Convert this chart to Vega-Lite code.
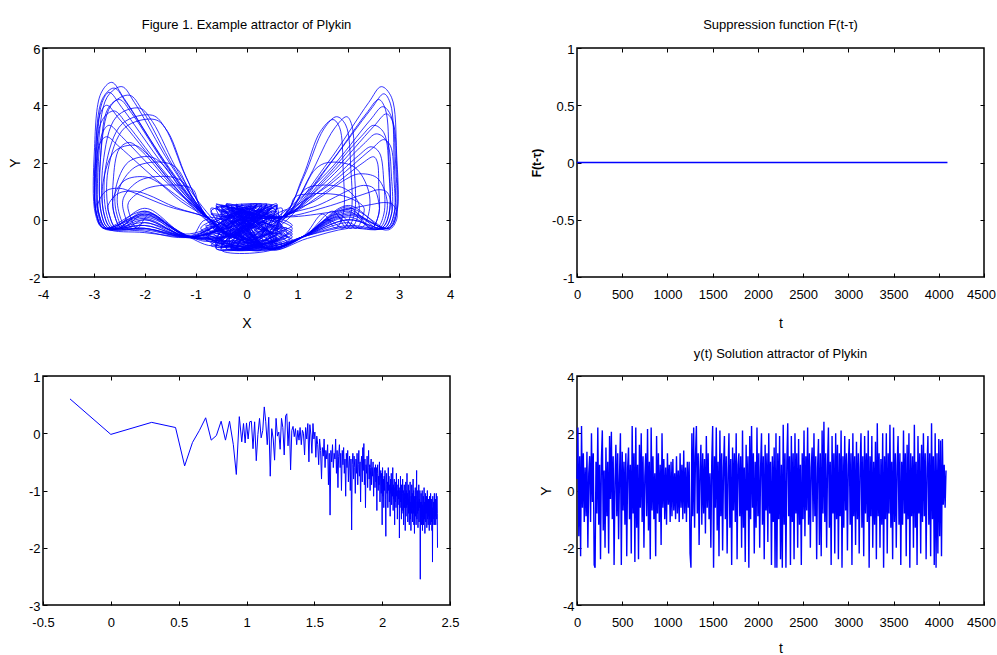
{
"$schema":"https://vega.github.io/schema/vega-lite/v6.json",
"background":"white",
"padding":{"left":7,"top":18,"right":0,"bottom":0},
"config":{
"font":"Liberation Sans",
"view":{"stroke":"black","strokeWidth":1.5},
"axis":{"domain":false,"grid":false,"ticks":true,"tickColor":"black","tickSize":-4,"tickWidth":1,"labelColor":"black","labelFont":"Liberation Sans","labelFontSize":13,"titleColor":"black","titleFont":"Liberation Sans","titleFontSize":14,"titleFontWeight":"normal","labelFlush":false,"labelOverlap":false},
"axisX":{"labelPadding":15,"titlePadding":15},
"axisY":{"labelPadding":7,"labelOffset":1,"titlePadding":6},
"title":{"font":"Liberation Sans","fontSize":13,"fontWeight":"normal","color":"black","offset":11}
},
"datasets":{
"attr":[{"x":0.2,"y":-0.5},
{"x":-1.1,"y":-0.6},{"x":-2.0,"y":-0.3},{"x":-2.82,"y":-0.3},{"x":-2.97,"y":0.2},{"x":-2.99,"y":2.4},{"x":-2.86,"y":4.42},{"x":-2.65,"y":4.8},{"x":-2.4,"y":4.22},{"x":-1.6,"y":2.02},{"x":-0.75,"y":0.05},{"x":-0.3,"y":-0.55},
{"x":0.3,"y":-0.9},{"x":-0.5,"y":0.45},{"x":0.7,"y":-0.3},{"x":-0.2,"y":-1.05},{"x":0.5,"y":0.4},
{"x":0.7,"y":0.1},{"x":1.58,"y":1.95},{"x":2.4,"y":4.09},{"x":2.65,"y":4.65},{"x":2.85,"y":4.28},{"x":2.95,"y":2.33},{"x":2.95,"y":0.2},{"x":2.8,"y":-0.3},{"x":2.0,"y":0.2},{"x":1.1,"y":-0.6},{"x":0.4,"y":-1.0},
{"x":-0.2,"y":0.5},{"x":0.6,"y":-1.0},{"x":-0.7,"y":-0.2},{"x":0.2,"y":0.3},{"x":-0.6,"y":-0.9},
{"x":-1.2,"y":-0.55},{"x":-2.0,"y":0.1},{"x":-2.8,"y":-0.3},{"x":-2.95,"y":0.2},{"x":-2.97,"y":2.3},{"x":-2.83,"y":4.23},{"x":-2.6,"y":4.6},{"x":-2.35,"y":4.05},{"x":-1.58,"y":1.93},{"x":-0.85,"y":0.15},{"x":-0.4,"y":-0.6},
{"x":0.4,"y":0.55},{"x":-0.8,"y":-0.5},{"x":0.1,"y":-1.0},{"x":0.8,"y":0.2},{"x":-0.1,"y":-1.05},
{"x":0.8,"y":0.0},{"x":1.6,"y":1.85},{"x":2.45,"y":3.87},{"x":2.7,"y":4.4},{"x":2.83,"y":4.05},{"x":2.9,"y":2.2},{"x":2.9,"y":0.2},{"x":2.75,"y":-0.3},{"x":2.0,"y":-0.2},{"x":1.2,"y":-0.55},{"x":0.5,"y":-1.05},
{"x":-0.5,"y":0.3},{"x":0.9,"y":-0.6},{"x":-0.3,"y":-0.95},{"x":0.4,"y":0.5},{"x":0.2,"y":-0.8},
{"x":-1.05,"y":-0.65},{"x":-2.0,"y":-0.45},{"x":-2.75,"y":-0.3},{"x":-2.9,"y":0.2},{"x":-2.92,"y":2.33},{"x":-2.74,"y":4.28},{"x":-2.45,"y":4.65},{"x":-2.2,"y":4.09},{"x":-1.5,"y":1.95},{"x":-0.7,"y":0.0},{"x":-0.2,"y":-0.5},
{"x":0.6,"y":-1.0},{"x":-0.4,"y":0.5},{"x":0.9,"y":-0.2},{"x":-0.6,"y":-0.7},{"x":0.0,"y":0.45},
{"x":-1.15,"y":-0.6},{"x":-2.0,"y":0.2},{"x":-2.77,"y":-0.3},{"x":-2.92,"y":0.2},{"x":-2.94,"y":2.23},{"x":-2.84,"y":4.09},{"x":-2.7,"y":4.45},{"x":-2.45,"y":3.92},{"x":-1.62,"y":1.87},{"x":-0.8,"y":0.1},{"x":-0.35,"y":-0.65},
{"x":0.5,"y":0.5},{"x":-0.9,"y":-0.3},{"x":0.3,"y":-1.05},{"x":-0.2,"y":0.2},{"x":-0.3,"y":-1.0},
{"x":0.65,"y":0.15},{"x":1.59,"y":1.66},{"x":2.43,"y":3.48},{"x":2.68,"y":3.95},{"x":2.84,"y":3.63},{"x":2.93,"y":1.98},{"x":2.93,"y":0.2},{"x":2.78,"y":-0.3},{"x":2.0,"y":0.4},{"x":1.05,"y":-0.65},{"x":0.3,"y":-0.95},
{"x":-0.4,"y":0.55},{"x":0.7,"y":-0.85},{"x":-0.8,"y":0.1},{"x":0.4,"y":-0.4},{"x":0.1,"y":-0.7},
{"x":-1.1,"y":-0.6},{"x":-2.0,"y":-0.1},{"x":-2.7,"y":-0.3},{"x":-2.85,"y":0.2},{"x":-2.87,"y":2.18},{"x":-2.66,"y":4.0},{"x":-2.3,"y":4.35},{"x":-2.05,"y":3.83},{"x":-1.43,"y":1.83},{"x":-0.75,"y":0.05},{"x":-0.3,"y":-0.55},
{"x":0.3,"y":0.3},{"x":-0.5,"y":-1.0},{"x":0.8,"y":-0.5},{"x":-0.1,"y":0.5},{"x":-0.6,"y":-0.95},
{"x":0.7,"y":0.1},{"x":1.13,"y":1.51},{"x":1.52,"y":3.17},{"x":1.77,"y":3.6},{"x":1.95,"y":3.31},{"x":2.05,"y":1.8},{"x":2.05,"y":0.2},{"x":1.9,"y":-0.3},{"x":1.6,"y":0.0},{"x":1.1,"y":-0.6},{"x":0.4,"y":-1.0},
{"x":-0.2,"y":0.4},{"x":0.6,"y":-0.5},{"x":-0.5,"y":-0.85},{"x":0.3,"y":0.55},
{"x":-1.2,"y":-0.5},{"x":-2.0,"y":0.3},{"x":-2.8,"y":-0.3},{"x":-2.95,"y":0.2},{"x":-2.97,"y":2.0},{"x":-2.88,"y":3.68},{"x":-2.75,"y":4.0},{"x":-2.5,"y":3.52},{"x":-1.65,"y":1.68},{"x":-0.8,"y":0.0},{"x":-0.3,"y":-0.5},
{"x":0.2,"y":-1.0},{"x":-0.7,"y":0.3},{"x":0.6,"y":0.45},{"x":-0.2,"y":-0.75},
{"x":0.75,"y":0.05},{"x":1.24,"y":1.51},{"x":1.72,"y":3.17},{"x":1.97,"y":3.6},{"x":2.07,"y":3.31},{"x":2.12,"y":1.8},{"x":2.12,"y":0.2},{"x":1.97,"y":-0.3},{"x":1.7,"y":0.3},{"x":1.15,"y":-0.55},{"x":0.4,"y":-1.0},
{"x":-0.1,"y":0.55},{"x":0.5,"y":-0.9},{"x":-0.9,"y":-0.4},{"x":0.2,"y":0.1},
{"x":-1.05,"y":-0.6},{"x":-2.0,"y":-0.35},{"x":-2.65,"y":-0.3},{"x":-2.8,"y":0.2},{"x":-2.82,"y":1.95},{"x":-2.56,"y":3.59},{"x":-2.1,"y":3.9},{"x":-1.85,"y":3.43},{"x":-1.33,"y":1.64},{"x":-0.7,"y":0.1},{"x":-0.3,"y":-0.55},
{"x":0.5,"y":0.1},{"x":-0.2,"y":-0.95},{"x":0.85,"y":-0.7},{"x":-0.5,"y":0.5},
{"x":0.7,"y":0.1},{"x":1.5,"y":1.39},{"x":2.25,"y":2.9},{"x":2.5,"y":3.3},{"x":2.7,"y":3.04},{"x":2.8,"y":1.65},{"x":2.8,"y":0.2},{"x":2.65,"y":-0.3},{"x":2.0,"y":-0.3},{"x":1.2,"y":-0.65},{"x":0.45,"y":-1.05},
{"x":-0.3,"y":0.2},{"x":0.3,"y":-1.05},{"x":-0.75,"y":-0.6},{"x":0.6,"y":0.5},
{"x":-1.1,"y":-0.6},{"x":-2.0,"y":0.0},{"x":-2.6,"y":-0.3},{"x":-2.75,"y":0.2},{"x":-2.77,"y":1.83},{"x":-2.44,"y":3.36},{"x":-1.85,"y":3.65},{"x":-1.6,"y":3.21},{"x":-1.2,"y":1.53},{"x":-0.75,"y":0.05},{"x":-0.3,"y":-0.55},
{"x":0.4,"y":0.45},{"x":-0.5,"y":-0.8},{"x":0.7,"y":-0.95},{"x":-0.3,"y":0.4},
{"x":0.7,"y":0.1},{"x":1.52,"y":1.26},{"x":2.3,"y":2.64},{"x":2.55,"y":3.0},{"x":2.75,"y":2.76},{"x":2.85,"y":1.5},{"x":2.85,"y":0.2},{"x":2.7,"y":-0.3},{"x":2.0,"y":0.5},{"x":1.1,"y":-0.6},{"x":0.4,"y":-1.0},
{"x":-0.1,"y":0.3},{"x":0.7,"y":-0.6},{"x":-0.6,"y":-1.0},{"x":0.2,"y":0.55},
{"x":-1.1,"y":-0.55},{"x":-2.0,"y":-0.2},{"x":-2.75,"y":-0.3},{"x":-2.9,"y":0.2},{"x":-2.92,"y":1.65},{"x":-2.83,"y":3.04},{"x":-2.7,"y":3.3},{"x":-2.45,"y":2.9},{"x":-1.62,"y":1.39},{"x":-0.75,"y":0.05},{"x":-0.3,"y":-0.55},
{"x":0.2,"y":0.55},{"x":-0.4,"y":-1.0},{"x":0.9,"y":-0.4},{"x":-0.7,"y":0.2},
{"x":0.7,"y":0.1},{"x":1.48,"y":1.07},{"x":2.2,"y":2.24},{"x":2.45,"y":2.55},{"x":2.61,"y":2.35},{"x":2.7,"y":1.28},{"x":2.7,"y":0.2},{"x":2.55,"y":-0.3},{"x":2.0,"y":0.1},{"x":1.1,"y":-0.6},{"x":0.4,"y":-1.0},
{"x":-0.6,"y":0.4},{"x":0.0,"y":-0.9},{"x":0.8,"y":0.35},{"x":-0.4,"y":-0.6},
{"x":-1.15,"y":-0.6},{"x":-2.0,"y":0.25},{"x":-2.55,"y":-0.3},{"x":-2.7,"y":0.2},{"x":-2.72,"y":1.75},{"x":-2.39,"y":3.22},{"x":-1.8,"y":3.5},{"x":-1.55,"y":3.08},{"x":-1.18,"y":1.47},{"x":-0.75,"y":0.05},{"x":-0.3,"y":-0.55},
{"x":0.6,"y":0.2},{"x":-0.1,"y":-1.0},{"x":-0.8,"y":-0.2},{"x":0.5,"y":-0.8},
{"x":0.7,"y":0.1},{"x":1.6,"y":1.18},{"x":2.45,"y":2.46},{"x":2.7,"y":2.8},{"x":2.83,"y":2.58},{"x":2.9,"y":1.4},{"x":2.9,"y":0.2},{"x":2.75,"y":-0.3},{"x":2.0,"y":0.25},{"x":1.1,"y":-0.6},{"x":0.4,"y":-1.0},
{"x":-0.3,"y":0.5},{"x":0.4,"y":-0.7},{"x":-0.7,"y":-0.9},{"x":0.6,"y":0.3},
{"x":-1.1,"y":-0.6},{"x":-2.0,"y":-0.3},{"x":-2.45,"y":-0.3},{"x":-2.6,"y":0.2},{"x":-2.62,"y":1.35},{"x":-2.5,"y":2.48},{"x":-2.3,"y":2.7},{"x":-2.05,"y":2.38},{"x":-1.43,"y":1.13},{"x":-0.75,"y":0.05},{"x":-0.3,"y":-0.55},
{"x":0.5,"y":-1.0},{"x":0.1,"y":0.4},{"x":-0.6,"y":-0.3},{"x":0.3,"y":-0.6},
{"x":0.7,"y":0.1},{"x":1.4,"y":0.5},{"x":2.05,"y":1.06},{"x":2.3,"y":1.2},{"x":2.5,"y":1.1},{"x":2.6,"y":0.6},{"x":2.6,"y":0.2},{"x":2.45,"y":-0.3},{"x":2.0,"y":0.3},{"x":1.1,"y":-0.6},{"x":0.4,"y":-1.0},
{"x":-0.5,"y":0.1},{"x":0.3,"y":0.45},{"x":-0.3,"y":-1.05},{"x":0.8,"y":-0.3},
{"x":-1.1,"y":-0.6},{"x":-2.0,"y":0.4},{"x":-2.65,"y":-0.3},{"x":-2.8,"y":0.2},{"x":-2.82,"y":1.3},{"x":-2.59,"y":2.39},{"x":-2.2,"y":2.6},{"x":-1.95,"y":2.29},{"x":-1.38,"y":1.09},{"x":-0.75,"y":0.05},{"x":-0.3,"y":-0.55},
{"x":0.6,"y":-0.8},{"x":-0.2,"y":0.5},{"x":0.4,"y":-1.0},{"x":-0.8,"y":0.0},
{"x":-1.1,"y":-0.6},{"x":-2.0,"y":0.0},{"x":-2.4,"y":-0.3},{"x":-2.55,"y":0.2},{"x":-2.57,"y":1.1},{"x":-2.32,"y":2.02},{"x":-1.9,"y":2.2},{"x":-1.65,"y":1.94},{"x":-1.23,"y":0.92},{"x":-0.75,"y":0.05},{"x":-0.3,"y":-0.55},
{"x":0.4,"y":0.5},{"x":-0.3,"y":-0.9},{"x":0.9,"y":-0.5},{"x":-0.5,"y":0.35},
{"x":0.7,"y":0.1},{"x":1.55,"y":0.44},{"x":2.35,"y":0.92},{"x":2.6,"y":1.05},{"x":2.76,"y":0.97},{"x":2.85,"y":0.53},{"x":2.85,"y":0.2},{"x":2.7,"y":-0.3},{"x":2.0,"y":0.0},{"x":1.1,"y":-0.6},{"x":0.4,"y":-1.0},
{"x":-0.6,"y":0.5},{"x":0.2,"y":-1.0},{"x":0.7,"y":0.4},{"x":-0.7,"y":-0.75},
{"x":-1.1,"y":-0.6},{"x":-2.0,"y":0.15},{"x":-2.8,"y":-0.3},{"x":-2.95,"y":0.2},{"x":-2.97,"y":1.45},{"x":-2.88,"y":2.67},{"x":-2.75,"y":2.9},{"x":-2.5,"y":2.55},{"x":-1.65,"y":1.22},{"x":-0.75,"y":0.05},{"x":-0.3,"y":-0.55},
{"x":0.3,"y":0.5},{"x":-0.5,"y":-1.05},{"x":0.6,"y":-0.95},{"x":-0.1,"y":0.2},
{"x":0.7,"y":0.1},{"x":1.1,"y":1.47},{"x":1.45,"y":3.08},{"x":1.7,"y":3.5},{"x":1.83,"y":3.22},{"x":1.9,"y":1.75},{"x":1.9,"y":0.2},{"x":1.75,"y":-0.3},{"x":1.5,"y":0.2},{"x":1.1,"y":-0.6},{"x":0.4,"y":-1.0},
{"x":-0.2,"y":0.45},{"x":0.5,"y":-0.6},{"x":-0.8,"y":-0.7},{"x":0.1,"y":0.55},
{"x":-1.1,"y":-0.6},{"x":-2.0,"y":-0.4},{"x":-2.35,"y":-0.3},{"x":-2.5,"y":0.2},{"x":-2.52,"y":1.0},{"x":-2.19,"y":1.84},{"x":-1.6,"y":2.0},{"x":-1.35,"y":1.76},{"x":-1.08,"y":0.84},{"x":-0.75,"y":0.05},{"x":-0.3,"y":-0.55},
{"x":0.5,"y":0.4},{"x":-0.4,"y":-1.0},{"x":0.8,"y":-0.8},{"x":-0.6,"y":0.45},
{"x":0.7,"y":0.1},{"x":1.05,"y":0.84},{"x":1.35,"y":1.76},{"x":1.6,"y":2.0},{"x":2.12,"y":1.84},{"x":2.4,"y":1.0},{"x":2.4,"y":0.2},{"x":2.25,"y":-0.3},{"x":2.0,"y":-0.1},{"x":1.1,"y":-0.6},{"x":0.4,"y":-1.0},
{"x":-0.4,"y":0.3},{"x":0.1,"y":-0.8},{"x":0.6,"y":0.55},{"x":-0.5,"y":-0.5},
{"x":-1.1,"y":-0.6},{"x":-2.0,"y":0.2},{"x":-2.45,"y":-0.3},{"x":-2.6,"y":0.2},{"x":-2.62,"y":0.75},{"x":-2.39,"y":1.38},{"x":-2.0,"y":1.5},{"x":-1.75,"y":1.32},{"x":-1.28,"y":0.63},{"x":-0.75,"y":0.05},{"x":-0.3,"y":-0.55},
{"x":0.6,"y":0.5},{"x":0.0,"y":-1.0},{"x":-0.7,"y":0.4},{"x":0.5,"y":-0.4},
{"x":0.7,"y":0.1},{"x":1.35,"y":0.67},{"x":1.95,"y":1.41},{"x":2.2,"y":1.6},{"x":2.56,"y":1.47},{"x":2.75,"y":0.8},{"x":2.75,"y":0.2},{"x":2.6,"y":-0.3},{"x":2.0,"y":0.35},{"x":1.1,"y":-0.6},{"x":0.4,"y":-1.0},
{"x":-0.5,"y":0.45},{"x":0.3,"y":-0.95},{"x":-0.9,"y":-0.5},{"x":0.4,"y":0.2},
{"x":-1.1,"y":-0.6},{"x":-2.0,"y":-0.2},{"x":-2.75,"y":-0.3},{"x":-2.9,"y":0.2},{"x":-2.92,"y":0.55},{"x":-2.76,"y":1.01},{"x":-2.5,"y":1.1},{"x":-2.25,"y":0.97},{"x":-1.53,"y":0.46},{"x":-0.75,"y":0.05},{"x":-0.3,"y":-0.55},
{"x":0.2,"y":0.5},{"x":-0.6,"y":-0.85},{"x":0.8,"y":-0.6},{"x":-0.2,"y":0.4},
{"x":0.7,"y":0.1},{"x":1.63,"y":1.55},{"x":2.5,"y":3.26},{"x":2.75,"y":3.7},{"x":2.88,"y":3.4},{"x":2.95,"y":1.85},{"x":2.95,"y":0.2},{"x":2.8,"y":-0.3},{"x":2.0,"y":0.15},{"x":1.1,"y":-0.6},{"x":0.4,"y":-1.0},
{"x":-0.2,"y":0.55},{"x":0.6,"y":-0.9},{"x":-0.4,"y":-0.3},{"x":0.3,"y":0.4},
{"x":-1.1,"y":-0.6},{"x":-2.0,"y":0.3},{"x":-2.55,"y":-0.3},{"x":-2.7,"y":0.2},{"x":-2.72,"y":0.5},{"x":-2.52,"y":0.92},{"x":-2.2,"y":1.0},{"x":-1.95,"y":0.88},{"x":-1.38,"y":0.42},{"x":-0.75,"y":0.05},{"x":-0.3,"y":-0.55},
{"x":0.5,"y":0.3},{"x":-0.1,"y":-1.05},{"x":0.9,"y":-0.3},{"x":-0.6,"y":0.55},
{"x":0.7,"y":0.1},{"x":0.95,"y":0.5},{"x":1.15,"y":1.06},{"x":1.4,"y":1.2},{"x":1.92,"y":1.1},{"x":2.2,"y":0.6},{"x":2.2,"y":0.2},{"x":2.05,"y":-0.3},{"x":1.8,"y":0.1},{"x":1.1,"y":-0.6},{"x":0.4,"y":-1.0},
{"x":-0.4,"y":0.5},{"x":0.2,"y":-0.7},{"x":-0.8,"y":-0.6},{"x":0.5,"y":0.5},
{"x":-1.1,"y":-0.6},{"x":-2.0,"y":-0.1},{"x":-2.25,"y":-0.3},{"x":-2.4,"y":0.2},{"x":-2.42,"y":0.75},{"x":-2.09,"y":1.38},{"x":-1.5,"y":1.5},{"x":-1.25,"y":1.32},{"x":-1.03,"y":0.63},{"x":-0.75,"y":0.05},{"x":-0.3,"y":-0.55},
{"x":0.4,"y":0.55},{"x":-0.5,"y":-0.95},{"x":0.7,"y":-0.2},{"x":-0.3,"y":0.3},
{"x":0.7,"y":0.1},{"x":1.55,"y":1.76},{"x":2.35,"y":3.7},{"x":2.6,"y":4.2},{"x":2.73,"y":3.86},{"x":2.8,"y":2.1},{"x":2.8,"y":0.2},{"x":2.65,"y":-0.3},{"x":2.0,"y":-0.25},{"x":1.1,"y":-0.6},{"x":0.4,"y":-1.0},
{"x":-0.3,"y":0.4},{"x":0.5,"y":-1.0},{"x":-0.7,"y":-0.8},{"x":0.8,"y":0.1},
{"x":-1.1,"y":-0.6},{"x":-2.0,"y":-0.3},{"x":-2.8,"y":-0.3},{"x":-2.95,"y":0.2},{"x":-2.97,"y":1.9},{"x":-2.83,"y":3.5},{"x":-2.6,"y":3.8},{"x":-2.35,"y":3.34},{"x":-1.58,"y":1.6},{"x":-0.75,"y":0.05},{"x":-0.3,"y":-0.55},
{"x":0.1,"y":0.5},{"x":-0.6,"y":-1.0},{"x":0.6,"y":-0.7},{"x":-0.4,"y":0.55},
{"x":0.7,"y":0.1},{"x":0.85,"y":0.38},{"x":0.95,"y":0.79},{"x":1.2,"y":0.9},{"x":1.91,"y":0.83},{"x":2.3,"y":0.45},{"x":2.3,"y":0.2},{"x":2.15,"y":-0.3},{"x":1.8,"y":0.2},{"x":1.1,"y":-0.6},{"x":0.4,"y":-1.0},
{"x":-0.2,"y":0.3},{"x":0.6,"y":-0.7},{"x":-0.8,"y":-0.3},{"x":0.2,"y":0.5},
{"x":-1.1,"y":-0.6},{"x":-2.0,"y":0.05},{"x":-2.7,"y":-0.3},{"x":-2.85,"y":0.2},{"x":-2.87,"y":2.1},{"x":-2.73,"y":3.86},{"x":-2.5,"y":4.2},{"x":-2.25,"y":3.7},{"x":-1.53,"y":1.76},{"x":-0.75,"y":0.05},{"x":-0.3,"y":-0.55},
{"x":0.5,"y":0.5},{"x":-0.3,"y":-1.0},{"x":0.9,"y":-0.7},{"x":-0.6,"y":0.1},
{"x":0.7,"y":0.1},{"x":1.5,"y":0.92},{"x":2.25,"y":1.94},{"x":2.5,"y":2.2},{"x":2.57,"y":2.02},{"x":2.6,"y":1.1},{"x":2.6,"y":0.2},{"x":2.45,"y":-0.3},{"x":2.0,"y":0.45},{"x":1.1,"y":-0.6},{"x":0.4,"y":-1.0},
{"x":-0.5,"y":0.2},{"x":0.3,"y":0.5},{"x":-0.2,"y":-1.05},{"x":0.7,"y":-0.5},
{"x":-1.1,"y":-0.6},{"x":-1.9,"y":0.2},{"x":-2.15,"y":-0.3},{"x":-2.3,"y":0.2},{"x":-2.32,"y":0.6},{"x":-1.95,"y":1.1},{"x":-1.3,"y":1.2},{"x":-1.05,"y":1.06},{"x":-0.93,"y":0.5},{"x":-0.75,"y":0.05},{"x":-0.3,"y":-0.55},
{"x":0.4,"y":-1.0},{"x":0.6,"y":0.4},{"x":-0.5,"y":-0.7},{"x":0.1,"y":0.3},
{"x":0.7,"y":0.1},{"x":1.6,"y":0.25},{"x":2.45,"y":0.53},{"x":2.7,"y":0.6},{"x":2.86,"y":0.55},{"x":2.95,"y":0.3},{"x":2.95,"y":0.0},{"x":2.8,"y":-0.35},{"x":2.0,"y":0.0},{"x":1.1,"y":-0.6},{"x":0.4,"y":-1.0}],
"supp":[{"t":0,"f":0},{"t":4096,"f":0}],
"spec":[{"x":-0.301,"y":0.6},{"x":0,"y":-0.02},{"x":0.301,"y":0.19},{"x":0.477,"y":0.1},{"x":0.544,"y":-0.57},{"x":0.602,"y":-0.16},{"x":0.653,"y":0.05},{"x":0.699,"y":0.27},{"x":0.74,"y":-0.12},{"x":0.778,"y":-0.04},{"x":0.813,"y":0.21},{"x":0.845,"y":-0.12},{"x":0.875,"y":0.21},{"x":0.903,"y":-0.2},{"x":0.925,"y":-0.72},{"x":0.947,"y":0.29},{"x":0.965,"y":-0.15},{"x":0.978,"y":0.17},{"x":0.99,"y":-0.17},{"x":1.0,"y":0.18},{"x":1.012,"y":-0.1},{"x":1.024,"y":0.2},{"x":1.036,"y":0.21},{"x":1.048,"y":-0.27},{"x":1.06,"y":0.2},{"x":1.072,"y":-0.48},{"x":1.084,"y":-0.02},{"x":1.096,"y":0.26},{"x":1.108,"y":-0.08},{"x":1.12,"y":0.05},{"x":1.131,"y":0.46},{"x":1.142,"y":0.2},{"x":1.153,"y":-0.2},{"x":1.164,"y":0.28},{"x":1.175,"y":-0.75},{"x":1.186,"y":0.08},{"x":1.197,"y":-0.1},{"x":1.207,"y":-0.47},{"x":1.218,"y":0.26},{"x":1.228,"y":-0.05},{"x":1.238,"y":0.02},{"x":1.248,"y":-0.28},{"x":1.258,"y":0.26},{"x":1.268,"y":0.1},{"x":1.278,"y":-0.38},{"x":1.288,"y":0.3},{"x":1.297,"y":0.34},{"x":1.306,"y":-0.22},{"x":1.316,"y":0.2},{"x":1.325,"y":-0.64},{"x":1.334,"y":0.05},{"x":1.343,"y":0.12},{"x":1.352,"y":-0.06},{"x":1.361,"y":0.08},{"x":1.37,"y":-0.2},{"x":1.378,"y":0.05},{"x":1.387,"y":-0.12},{"x":1.395,"y":0.1},{"x":1.404,"y":-0.2},{"x":1.412,"y":0.05},{"x":1.42,"y":0.0},{"x":1.428,"y":-0.38},{"x":1.436,"y":0.1},{"x":1.444,"y":-0.1},{"x":1.452,"y":0.17},{"x":1.46,"y":-0.5},{"x":1.467,"y":0.15},{"x":1.475,"y":-0.03},{"x":1.482,"y":-0.35},{"x":1.49,"y":0.17},{"x":1.497,"y":-0.1},{"x":1.504,"y":0.02},{"x":1.511,"y":-0.42},{"x":1.518,"y":-0.05},{"x":1.525,"y":-0.2},{"x":1.532,"y":-0.55},{"x":1.539,"y":-0.1},{"x":1.546,"y":-0.3},{"x":1.553,"y":-0.8},{"x":1.559,"y":-0.25},{"x":1.566,"y":-0.4},{"x":1.572,"y":-0.1},{"x":1.579,"y":-0.6},{"x":1.585,"y":-0.3},{"x":1.592,"y":-0.45},{"x":1.598,"y":-0.2},{"x":1.604,"y":-0.9},{"x":1.61,"y":-0.35},{"x":1.616,"y":-1.43},{"x":1.622,"y":-0.3},{"x":1.628,"y":-0.5},{"x":1.634,"y":-0.2},{"x":1.64,"y":-0.6},{"x":1.646,"y":-0.35},{"x":1.652,"y":-0.45},{"x":1.657,"y":-0.1},{"x":1.663,"y":-0.7},{"x":1.668,"y":-0.3},{"x":1.674,"y":-0.95},{"x":1.679,"y":-0.4},{"x":1.685,"y":-0.2},{"x":1.69,"y":-0.6},{"x":1.695,"y":-0.35},{"x":1.7,"y":-1.0},{"x":1.706,"y":-0.3},{"x":1.711,"y":-0.55},{"x":1.716,"y":-0.25},{"x":1.721,"y":-0.7},{"x":1.726,"y":-0.45},{"x":1.731,"y":-1.1},{"x":1.736,"y":-0.35},{"x":1.741,"y":-0.6},{"x":1.746,"y":-0.3},{"x":1.751,"y":-0.85},{"x":1.756,"y":-0.5},{"x":1.76,"y":-0.4},{"x":1.765,"y":-1.0},{"x":1.77,"y":-0.45},{"x":1.775,"y":-1.69},{"x":1.779,"y":-0.55},{"x":1.784,"y":-0.35},{"x":1.789,"y":-0.8},{"x":1.793,"y":-0.4},{"x":1.798,"y":-0.6},{"x":1.802,"y":-1.05},{"x":1.807,"y":-0.45},{"x":1.811,"y":-0.7},{"x":1.815,"y":-0.35},{"x":1.82,"y":-0.9},{"x":1.824,"y":-0.55},{"x":1.828,"y":-0.3},{"x":1.832,"y":-0.75},{"x":1.837,"y":-0.5},{"x":1.841,"y":-1.2},{"x":1.845,"y":-0.5},{"x":1.849,"y":-0.4},{"x":1.853,"y":-0.85},{"x":1.857,"y":-0.25},{"x":1.861,"y":-0.65},{"x":1.865,"y":-0.18},{"x":1.869,"y":-0.9},{"x":1.873,"y":-0.45},{"x":1.877,"y":-1.3},{"x":1.881,"y":-0.55},{"x":1.885,"y":-0.7},{"x":1.889,"y":-0.4},{"x":1.893,"y":-0.95},{"x":1.896,"y":-0.6},{"x":1.9,"y":-0.3},{"x":1.904,"y":-0.8},{"x":1.908,"y":-0.55},{"x":1.911,"y":-1.0},{"x":1.915,"y":-0.6},{"x":1.919,"y":-0.45},{"x":1.922,"y":-0.9},{"x":1.926,"y":-0.6},{"x":1.93,"y":-0.75},{"x":1.933,"y":-0.5},{"x":1.937,"y":-1.1},{"x":1.94,"y":-0.7},{"x":1.944,"y":-0.6},{"x":1.947,"y":-0.95},{"x":1.951,"y":-0.55},{"x":1.954,"y":-0.85},{"x":1.957,"y":-0.6},{"x":1.961,"y":-1.35},{"x":1.964,"y":-0.7},{"x":1.967,"y":-0.55},{"x":1.971,"y":-1.0},{"x":1.974,"y":-0.75},{"x":1.977,"y":-0.9},{"x":1.98,"y":-0.5},{"x":1.984,"y":-1.2},{"x":1.987,"y":-0.8},{"x":1.99,"y":-0.65},{"x":1.993,"y":-1.05},{"x":1.996,"y":-0.7},{"x":2.0,"y":-1.6},{"x":2.003,"y":-0.6},{"x":2.006,"y":-1.1},{"x":2.009,"y":-0.8},{"x":2.012,"y":-1.3},{"x":2.015,"y":-0.75},{"x":2.018,"y":-1.0},{"x":2.021,"y":-0.65},{"x":2.024,"y":-1.15},{"x":2.027,"y":-1.8},{"x":2.03,"y":-0.9},{"x":2.033,"y":-0.7},{"x":2.036,"y":-1.05},{"x":2.039,"y":-0.85},{"x":2.042,"y":-1.3},{"x":2.045,"y":-0.6},{"x":2.048,"y":-1.0},{"x":2.05,"y":-0.75},{"x":2.053,"y":-1.2},{"x":2.056,"y":-0.9},{"x":2.059,"y":-1.45},{"x":2.062,"y":-0.8},{"x":2.065,"y":-1.05},{"x":2.067,"y":-0.7},{"x":2.07,"y":-1.25},{"x":2.073,"y":-0.95},{"x":2.076,"y":-1.1},{"x":2.078,"y":-0.6},{"x":2.081,"y":-1.35},{"x":2.084,"y":-0.9},{"x":2.086,"y":-1.15},{"x":2.089,"y":-0.8},{"x":2.092,"y":-1.6},{"x":2.094,"y":-0.95},{"x":2.097,"y":-1.2},{"x":2.1,"y":-0.85},{"x":2.102,"y":-1.3},{"x":2.105,"y":-0.7},{"x":2.107,"y":-1.1},{"x":2.11,"y":-0.9},{"x":2.112,"y":-1.5},{"x":2.115,"y":-1.0},{"x":2.117,"y":-1.25},{"x":2.12,"y":-0.8},{"x":2.122,"y":-1.15},{"x":2.125,"y":-0.95},{"x":2.127,"y":-1.83},{"x":2.13,"y":-1.0},{"x":2.132,"y":-1.3},{"x":2.135,"y":-0.75},{"x":2.137,"y":-1.2},{"x":2.14,"y":-1.0},{"x":2.142,"y":-1.5},{"x":2.144,"y":-0.9},{"x":2.147,"y":-1.35},{"x":2.149,"y":-1.05},{"x":2.151,"y":-0.8},{"x":2.154,"y":-1.4},{"x":2.156,"y":-1.0},{"x":2.158,"y":-1.6},{"x":2.161,"y":-1.1},{"x":2.163,"y":-0.9},{"x":2.165,"y":-1.3},{"x":2.167,"y":-1.05},{"x":2.17,"y":-1.7},{"x":2.172,"y":-1.15},{"x":2.174,"y":-0.85},{"x":2.176,"y":-1.45},{"x":2.178,"y":-1.0},{"x":2.181,"y":-1.3},{"x":2.183,"y":-0.7},{"x":2.185,"y":-1.25},{"x":2.187,"y":-1.05},{"x":2.189,"y":-1.55},{"x":2.191,"y":-1.1},{"x":2.193,"y":-0.9},{"x":2.195,"y":-1.4},{"x":2.198,"y":-1.15},{"x":2.2,"y":-1.6},{"x":2.202,"y":-1.0},{"x":2.204,"y":-1.35},{"x":2.206,"y":-0.85},{"x":2.208,"y":-1.5},{"x":2.21,"y":-1.2},{"x":2.212,"y":-1.7},{"x":2.214,"y":-1.1},{"x":2.216,"y":-1.4},{"x":2.218,"y":-0.9},{"x":2.22,"y":-1.3},{"x":2.222,"y":-1.05},{"x":2.224,"y":-1.55},{"x":2.226,"y":-1.2},{"x":2.228,"y":-0.8},{"x":2.23,"y":-1.4},{"x":2.232,"y":-1.0},{"x":2.234,"y":-1.6},{"x":2.236,"y":-1.15},{"x":2.238,"y":-1.75},{"x":2.24,"y":-1.1},{"x":2.242,"y":-1.3},{"x":2.244,"y":-0.95},{"x":2.246,"y":-1.45},{"x":2.248,"y":-1.1},{"x":2.25,"y":-1.6},{"x":2.252,"y":-1.0},{"x":2.254,"y":-0.65},{"x":2.256,"y":-1.5},{"x":2.258,"y":-1.2},{"x":2.26,"y":-1.4},{"x":2.262,"y":-1.0},{"x":2.264,"y":-1.65},{"x":2.266,"y":-1.2},{"x":2.268,"y":-1.35},{"x":2.27,"y":-0.9},{"x":2.272,"y":-1.55},{"x":2.274,"y":-1.15},{"x":2.276,"y":-1.3},{"x":2.278,"y":-1.0},{"x":2.281,"y":-2.55},{"x":2.283,"y":-1.2},{"x":2.285,"y":-1.45},{"x":2.287,"y":-1.05},{"x":2.289,"y":-1.6},{"x":2.291,"y":-1.2},{"x":2.293,"y":-1.4},{"x":2.295,"y":-1.0},{"x":2.297,"y":-1.7},{"x":2.299,"y":-1.25},{"x":2.301,"y":-1.45},{"x":2.303,"y":-1.1},{"x":2.305,"y":-1.6},{"x":2.307,"y":-1.3},{"x":2.309,"y":-0.95},{"x":2.311,"y":-1.5},{"x":2.313,"y":-1.2},{"x":2.315,"y":-1.75},{"x":2.317,"y":-1.3},{"x":2.319,"y":-1.05},{"x":2.321,"y":-1.55},{"x":2.323,"y":-1.25},{"x":2.325,"y":-1.4},{"x":2.327,"y":-1.1},{"x":2.329,"y":-1.65},{"x":2.331,"y":-1.3},{"x":2.333,"y":-1.0},{"x":2.335,"y":-1.5},{"x":2.337,"y":-1.2},{"x":2.339,"y":-1.6},{"x":2.341,"y":-1.15},{"x":2.343,"y":-1.45},{"x":2.345,"y":-1.3},{"x":2.347,"y":-1.7},{"x":2.349,"y":-1.1},{"x":2.351,"y":-1.5},{"x":2.353,"y":-1.25},{"x":2.355,"y":-1.6},{"x":2.357,"y":-1.05},{"x":2.359,"y":-1.4},{"x":2.361,"y":-1.2},{"x":2.363,"y":-1.55},{"x":2.365,"y":-1.15},{"x":2.367,"y":-1.7},{"x":2.369,"y":-1.3},{"x":2.371,"y":-2.25},{"x":2.373,"y":-1.1},{"x":2.375,"y":-1.6},{"x":2.377,"y":-1.35},{"x":2.379,"y":-1.2},{"x":2.381,"y":-1.5},{"x":2.383,"y":-1.3},{"x":2.385,"y":-1.05},{"x":2.387,"y":-1.6},{"x":2.389,"y":-1.3},{"x":2.391,"y":-1.45},{"x":2.393,"y":-1.15},{"x":2.395,"y":-1.6},{"x":2.397,"y":-1.25},{"x":2.399,"y":-1.05},{"x":2.402,"y":-1.5},{"x":2.404,"y":-1.1},{"x":2.406,"y":-1.4},{"x":2.408,"y":-2.0}],
"ts":[{"t":0,"y":0.4},{"t":10,"y":2.2},{"t":20,"y":-1.6},{"t":30,"y":1.2},{"t":40,"y":-2.3},{"t":50,"y":2.25},{"t":60,"y":-0.6},{"t":70,"y":1.3},{"t":80,"y":-1.1},{"t":90,"y":0.8},
{"t":100,"y":-0.9},{"t":110,"y":1.35},{"t":120,"y":-2.0},{"t":130,"y":0.6},{"t":140,"y":1.2},{"t":150,"y":-1.1},{"t":160,"y":2.0},{"t":170,"y":-0.4},{"t":180,"y":1.3},{"t":190,"y":-2.6},
{"t":200,"y":-2.7},{"t":210,"y":1.0},{"t":220,"y":-0.8},{"t":230,"y":2.2},{"t":240,"y":-1.2},{"t":250,"y":0.9},{"t":260,"y":-2.4},{"t":270,"y":1.1},{"t":280,"y":2.1},{"t":290,"y":-1.4},
{"t":300,"y":0.7},{"t":310,"y":-2.0},{"t":320,"y":1.5},{"t":330,"y":-0.9},{"t":340,"y":1.0},{"t":350,"y":-2.2},{"t":360,"y":1.9},{"t":370,"y":-0.3},{"t":380,"y":2.05},{"t":390,"y":-1.0},
{"t":400,"y":1.2},{"t":410,"y":-2.6},{"t":420,"y":0.3},{"t":430,"y":1.6},{"t":440,"y":-0.9},{"t":450,"y":1.3},{"t":460,"y":-1.7},{"t":470,"y":0.5},{"t":480,"y":2.0},{"t":490,"y":-2.6},
{"t":500,"y":1.35},{"t":510,"y":-0.7},{"t":520,"y":1.0},{"t":530,"y":-1.2},{"t":540,"y":1.3},{"t":550,"y":-2.3},{"t":560,"y":0.8},{"t":570,"y":1.5},{"t":580,"y":-1.0},{"t":590,"y":0.9},
{"t":600,"y":-2.2},{"t":610,"y":2.25},{"t":620,"y":-0.8},{"t":630,"y":1.3},{"t":640,"y":-2.5},{"t":650,"y":2.2},{"t":660,"y":-1.3},{"t":670,"y":0.9},{"t":680,"y":-2.4},{"t":690,"y":1.6},
{"t":700,"y":-0.6},{"t":710,"y":2.0},{"t":720,"y":-1.1},{"t":730,"y":1.2},{"t":740,"y":-2.0},{"t":750,"y":0.5},{"t":760,"y":1.3},{"t":770,"y":-0.9},{"t":780,"y":2.15},{"t":790,"y":-1.4},
{"t":800,"y":1.0},{"t":810,"y":-2.4},{"t":820,"y":2.2},{"t":830,"y":-0.7},{"t":840,"y":1.2},{"t":850,"y":-1.0},{"t":860,"y":0.6},{"t":870,"y":-2.3},{"t":880,"y":1.9},{"t":890,"y":-0.8},
{"t":900,"y":1.3},{"t":910,"y":-1.1},{"t":920,"y":0.9},{"t":930,"y":-1.9},{"t":940,"y":2.0},{"t":950,"y":-0.6},{"t":960,"y":1.1},{"t":970,"y":-1.0},{"t":980,"y":0.8},{"t":990,"y":-1.2},
{"t":1000,"y":1.3},{"t":1010,"y":-0.5},{"t":1020,"y":0.9},{"t":1030,"y":-1.1},{"t":1040,"y":1.0},{"t":1050,"y":-0.9},{"t":1060,"y":1.1},{"t":1070,"y":-0.7},{"t":1080,"y":0.6},{"t":1090,"y":-1.0},
{"t":1100,"y":1.2},{"t":1110,"y":-0.8},{"t":1120,"y":0.7},{"t":1130,"y":-1.1},{"t":1140,"y":1.3},{"t":1150,"y":-0.6},{"t":1160,"y":0.9},{"t":1170,"y":-1.0},{"t":1180,"y":1.4},{"t":1190,"y":-0.8},
{"t":1200,"y":0.8},{"t":1210,"y":-1.1},{"t":1220,"y":1.0},{"t":1230,"y":-0.6},{"t":1240,"y":1.0},{"t":1250,"y":-2.2},{"t":1260,"y":-2.7},{"t":1270,"y":2.0},{"t":1280,"y":-0.9},{"t":1290,"y":2.2},
{"t":1300,"y":-1.3},{"t":1310,"y":1.2},{"t":1320,"y":2.25},{"t":1330,"y":-0.8},{"t":1340,"y":1.3},{"t":1350,"y":-1.9},{"t":1360,"y":0.7},{"t":1370,"y":1.6},{"t":1380,"y":-1.2},{"t":1390,"y":1.3},
{"t":1400,"y":-0.8},{"t":1410,"y":1.1},{"t":1420,"y":-1.5},{"t":1430,"y":1.9},{"t":1440,"y":-0.6},{"t":1450,"y":1.3},{"t":1460,"y":-1.0},{"t":1470,"y":0.6},{"t":1480,"y":-2.0},{"t":1490,"y":1.0},
{"t":1500,"y":2.25},{"t":1510,"y":-2.7},{"t":1520,"y":1.2},{"t":1530,"y":-0.6},{"t":1540,"y":2.2},{"t":1550,"y":-1.4},{"t":1560,"y":1.0},{"t":1570,"y":-2.3},{"t":1580,"y":2.1},{"t":1590,"y":-0.9},
{"t":1600,"y":1.3},{"t":1610,"y":-2.1},{"t":1620,"y":0.8},{"t":1630,"y":1.9},{"t":1640,"y":-1.0},{"t":1650,"y":1.2},{"t":1660,"y":-2.2},{"t":1670,"y":0.6},{"t":1680,"y":2.0},{"t":1690,"y":-1.3},
{"t":1700,"y":1.1},{"t":1710,"y":-2.6},{"t":1720,"y":1.5},{"t":1730,"y":-0.7},{"t":1740,"y":1.3},{"t":1750,"y":-1.1},{"t":1760,"y":2.0},{"t":1770,"y":-2.4},{"t":1780,"y":0.9},{"t":1790,"y":1.3},
{"t":1800,"y":-0.9},{"t":1810,"y":1.2},{"t":1820,"y":-2.0},{"t":1830,"y":2.1},{"t":1840,"y":-1.3},{"t":1850,"y":0.8},{"t":1860,"y":-2.5},{"t":1870,"y":1.6},{"t":1880,"y":-0.7},{"t":1890,"y":1.2},
{"t":1900,"y":-2.7},{"t":1910,"y":1.9},{"t":1920,"y":-1.0},{"t":1930,"y":2.25},{"t":1940,"y":-0.6},{"t":1950,"y":1.3},{"t":1960,"y":-2.2},{"t":1970,"y":1.0},{"t":1980,"y":-1.3},{"t":1990,"y":2.2},
{"t":2000,"y":-0.9},{"t":2010,"y":1.3},{"t":2020,"y":-2.0},{"t":2030,"y":0.8},{"t":2040,"y":2.0},{"t":2050,"y":-1.2},{"t":2060,"y":1.2},{"t":2070,"y":-2.4},{"t":2080,"y":1.6},{"t":2090,"y":-0.7},
{"t":2100,"y":1.3},{"t":2110,"y":-1.8},{"t":2120,"y":2.0},{"t":2130,"y":-0.8},{"t":2140,"y":1.0},{"t":2150,"y":-2.6},{"t":2160,"y":1.2},{"t":2170,"y":-1.1},{"t":2180,"y":1.5},{"t":2190,"y":-2.7},
{"t":2200,"y":2.0},{"t":2210,"y":-2.7},{"t":2220,"y":1.3},{"t":2230,"y":-1.0},{"t":2240,"y":1.9},{"t":2250,"y":-2.4},{"t":2260,"y":0.9},{"t":2270,"y":-2.7},{"t":2280,"y":2.3},{"t":2290,"y":-1.2},
{"t":2300,"y":1.3},{"t":2310,"y":-2.7},{"t":2320,"y":1.0},{"t":2330,"y":2.35},{"t":2340,"y":-0.9},{"t":2350,"y":1.2},{"t":2360,"y":-2.6},{"t":2370,"y":1.9},{"t":2380,"y":-1.1},{"t":2390,"y":1.3},
{"t":2400,"y":-2.4},{"t":2410,"y":2.0},{"t":2420,"y":-0.8},{"t":2430,"y":1.3},{"t":2440,"y":-2.0},{"t":2450,"y":1.8},{"t":2460,"y":-1.2},{"t":2470,"y":0.9},{"t":2480,"y":-2.6},{"t":2490,"y":1.3},
{"t":2500,"y":-1.0},{"t":2510,"y":2.1},{"t":2520,"y":-1.6},{"t":2530,"y":1.2},{"t":2540,"y":-0.7},{"t":2550,"y":2.2},{"t":2560,"y":-1.2},{"t":2570,"y":1.3},{"t":2580,"y":-2.0},{"t":2590,"y":0.8},
{"t":2600,"y":1.5},{"t":2610,"y":-1.1},{"t":2620,"y":2.0},{"t":2630,"y":-0.9},{"t":2640,"y":1.2},{"t":2650,"y":-2.4},{"t":2660,"y":0.8},{"t":2670,"y":1.8},{"t":2680,"y":-1.9},{"t":2690,"y":1.3},
{"t":2700,"y":-2.3},{"t":2710,"y":2.1},{"t":2720,"y":-0.8},{"t":2730,"y":2.4},{"t":2740,"y":-1.1},{"t":2750,"y":1.3},{"t":2760,"y":-2.0},{"t":2770,"y":0.9},{"t":2780,"y":2.2},{"t":2790,"y":-1.3},
{"t":2800,"y":1.0},{"t":2810,"y":-2.6},{"t":2820,"y":1.9},{"t":2830,"y":-0.8},{"t":2840,"y":1.3},{"t":2850,"y":-2.2},{"t":2860,"y":2.0},{"t":2870,"y":-1.0},{"t":2880,"y":1.6},{"t":2890,"y":-2.4},
{"t":2900,"y":1.3},{"t":2910,"y":-0.9},{"t":2920,"y":2.1},{"t":2930,"y":-2.7},{"t":2940,"y":1.2},{"t":2950,"y":-1.3},{"t":2960,"y":1.9},{"t":2970,"y":-0.7},{"t":2980,"y":1.3},{"t":2990,"y":-2.1},
{"t":3000,"y":0.9},{"t":3010,"y":1.8},{"t":3020,"y":-1.2},{"t":3030,"y":1.3},{"t":3040,"y":-2.6},{"t":3050,"y":2.0},{"t":3060,"y":-0.9},{"t":3070,"y":1.2},{"t":3080,"y":-1.9},{"t":3090,"y":1.7},
{"t":3100,"y":-1.0},{"t":3110,"y":1.3},{"t":3120,"y":-2.2},{"t":3130,"y":0.8},{"t":3140,"y":2.0},{"t":3150,"y":-1.3},{"t":3160,"y":1.2},{"t":3170,"y":-2.3},{"t":3180,"y":1.9},{"t":3190,"y":-0.8},
{"t":3200,"y":1.3},{"t":3210,"y":-1.1},{"t":3220,"y":2.1},{"t":3230,"y":-2.7},{"t":3240,"y":1.2},{"t":3250,"y":-0.9},{"t":3260,"y":1.9},{"t":3270,"y":-2.0},{"t":3280,"y":1.0},{"t":3290,"y":-1.2},
{"t":3300,"y":1.7},{"t":3310,"y":-2.4},{"t":3320,"y":2.35},{"t":3330,"y":-0.9},{"t":3340,"y":1.3},{"t":3350,"y":-2.0},{"t":3360,"y":1.1},{"t":3370,"y":-1.2},{"t":3380,"y":2.0},{"t":3390,"y":-2.7},
{"t":3400,"y":1.2},{"t":3410,"y":-1.0},{"t":3420,"y":2.0},{"t":3430,"y":-2.2},{"t":3440,"y":1.3},{"t":3450,"y":-0.8},{"t":3460,"y":2.3},{"t":3470,"y":-1.3},{"t":3480,"y":1.0},{"t":3490,"y":-2.4},
{"t":3500,"y":2.2},{"t":3510,"y":-1.1},{"t":3520,"y":1.3},{"t":3530,"y":-2.0},{"t":3540,"y":0.9},{"t":3550,"y":1.9},{"t":3560,"y":-1.2},{"t":3570,"y":1.3},{"t":3580,"y":-2.6},{"t":3590,"y":1.0},
{"t":3600,"y":-1.2},{"t":3610,"y":2.1},{"t":3620,"y":-0.8},{"t":3630,"y":1.3},{"t":3640,"y":-2.3},{"t":3650,"y":1.6},{"t":3660,"y":-1.0},{"t":3670,"y":2.0},{"t":3680,"y":-2.7},{"t":3690,"y":1.3},
{"t":3700,"y":-0.9},{"t":3710,"y":1.2},{"t":3720,"y":-2.0},{"t":3730,"y":2.3},{"t":3740,"y":-1.3},{"t":3750,"y":1.0},{"t":3760,"y":-2.6},{"t":3770,"y":1.9},{"t":3780,"y":-0.8},{"t":3790,"y":1.3},
{"t":3800,"y":-2.2},{"t":3810,"y":1.6},{"t":3820,"y":-1.1},{"t":3830,"y":2.0},{"t":3840,"y":-0.9},{"t":3850,"y":1.3},{"t":3860,"y":-2.4},{"t":3870,"y":0.8},{"t":3880,"y":1.9},{"t":3890,"y":-1.2},
{"t":3900,"y":1.3},{"t":3910,"y":-2.3},{"t":3920,"y":2.35},{"t":3930,"y":-1.0},{"t":3940,"y":1.2},{"t":3950,"y":-2.6},{"t":3960,"y":2.0},{"t":3970,"y":-2.7},{"t":3980,"y":1.3},{"t":3990,"y":-2.2},
{"t":4000,"y":1.8},{"t":4010,"y":-1.6},{"t":4020,"y":1.75},{"t":4030,"y":-2.3},{"t":4040,"y":1.8},{"t":4050,"y":-0.5},{"t":4060,"y":0.9},{"t":4070,"y":-0.6},{"t":4080,"y":0.7}]
},
"columns":2,
"spacing":{"row":99,"column":127},
"bounds":"flush",
"concat":[
{"width":407,"height":229,
"title":{"text":"Figure 1. Example attractor of Plykin"},
"layer":[
{"data":{"name":"attr"},"mark":{"type":"line","interpolate":"catmull-rom","color":"#0000ff","strokeWidth":0.8},
"encoding":{"x":{"field":"x","type":"quantitative","scale":{"domain":[-4,4],"nice":false,"zero":false},"axis":{"values":[-4,-3,-2,-1,0,1,2,3,4],"title":"X","labelExpr":"datum.value + ''"}},
"y":{"field":"y","type":"quantitative","scale":{"domain":[-2,6],"nice":false,"zero":false},"axis":{"values":[-2,0,2,4,6],"title":"Y","labelExpr":"datum.value + ''"}},
"order":{"value":null}}},
{"data":{"values":[{"x":0,"y":0}]},"mark":{"type":"point","opacity":0},
"encoding":{"x":{"field":"x","type":"quantitative","axis":{"orient":"top","labels":false,"title":null,"values":[-3,-2,-1,0,1,2,3]}},
"y":{"field":"y","type":"quantitative","axis":{"orient":"right","labels":false,"title":null,"values":[0,2,4]}}}}
],
"resolve":{"axis":{"x":"independent","y":"independent"}}},
{"width":407,"height":229,
"title":{"text":"Suppression function F(t-τ)"},
"layer":[
{"data":{"name":"supp"},"mark":{"type":"line","color":"#0000ff","strokeWidth":1.5},
"encoding":{"x":{"field":"t","type":"quantitative","scale":{"domain":[0,4500],"nice":false,"zero":false},"axis":{"values":[0,500,1000,1500,2000,2500,3000,3500,4000,4500],"title":"t","labelExpr":"datum.value + ''","labelOffset":{"condition":{"test":"datum.value == 4500","value":-3},"value":0}}},
"y":{"field":"f","type":"quantitative","scale":{"domain":[-1,1],"nice":false,"zero":false},"axis":{"values":[-1,-0.5,0,0.5,1],"title":"F(t-τ)","titleFontWeight":"bold","titleFontSize":12,"titlePadding":8,"labelExpr":"datum.value + ''"}}}},
{"data":{"values":[{"t":0,"f":0}]},"mark":{"type":"point","opacity":0},
"encoding":{"x":{"field":"t","type":"quantitative","axis":{"orient":"top","labels":false,"title":null,"values":[500,1000,1500,2000,2500,3000,3500,4000]}},
"y":{"field":"f","type":"quantitative","axis":{"orient":"right","labels":false,"title":null,"values":[-0.5,0,0.5]}}}}
],
"resolve":{"axis":{"x":"independent","y":"independent"}}},
{"width":407,"height":229,
"layer":[
{"data":{"name":"spec"},"mark":{"type":"line","color":"#0000ff","strokeWidth":1},
"encoding":{"x":{"field":"x","type":"quantitative","scale":{"domain":[-0.5,2.5],"nice":false,"zero":false},"axis":{"values":[-0.5,0,0.5,1,1.5,2,2.5],"title":null,"labelExpr":"datum.value + ''"}},
"y":{"field":"y","type":"quantitative","scale":{"domain":[-3,1],"nice":false,"zero":false},"axis":{"values":[-3,-2,-1,0,1],"title":null,"labelExpr":"datum.value + ''"}},
"order":{"value":null}}},
{"data":{"values":[{"x":0,"y":0}]},"mark":{"type":"point","opacity":0},
"encoding":{"x":{"field":"x","type":"quantitative","axis":{"orient":"top","labels":false,"title":null,"values":[0,0.5,1,1.5,2]}},
"y":{"field":"y","type":"quantitative","axis":{"orient":"right","labels":false,"title":null,"values":[-2,-1,0]}}}}
],
"resolve":{"axis":{"x":"independent","y":"independent"}}},
{"width":407,"height":229,
"title":{"text":"y(t) Solution attractor of Plykin","offset":10},
"layer":[
{"data":{"name":"ts"},"mark":{"type":"line","color":"#0000ff","strokeWidth":1.4},
"encoding":{"x":{"field":"t","type":"quantitative","scale":{"domain":[0,4500],"nice":false,"zero":false},"axis":{"values":[0,500,1000,1500,2000,2500,3000,3500,4000,4500],"title":"t","titlePadding":12,"labelExpr":"datum.value + ''","labelOffset":{"condition":{"test":"datum.value == 4500","value":-3},"value":0}}},
"y":{"field":"y","type":"quantitative","scale":{"domain":[-4,4],"nice":false,"zero":false},"axis":{"values":[-4,-2,0,2,4],"title":"Y","titlePadding":9,"labelExpr":"datum.value + ''"}}}},
{"data":{"values":[{"t":0,"y":0}]},"mark":{"type":"point","opacity":0},
"encoding":{"x":{"field":"t","type":"quantitative","axis":{"orient":"top","labels":false,"title":null,"values":[500,1000,1500,2000,2500,3000,3500,4000]}},
"y":{"field":"y","type":"quantitative","axis":{"orient":"right","labels":false,"title":null,"values":[-2,0,2]}}}}
],
"resolve":{"axis":{"x":"independent","y":"independent"}}}
]
}
